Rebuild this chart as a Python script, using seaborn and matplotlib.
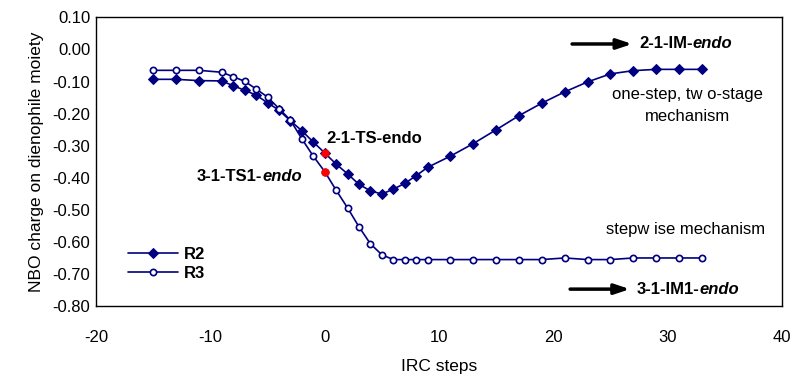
import matplotlib
matplotlib.use("Agg")
import matplotlib.pyplot as plt
import matplotlib.transforms as mtransforms
import seaborn as sns
import pandas as pd

# ---- data ----
steps = [-15, -13, -11, -9, -8, -7, -6, -5, -4, -3, -2, -1, 0, 1, 2, 3, 4, 5, 6, 7, 8, 9,
         11, 13, 15, 17, 19, 21, 23, 25, 27, 29, 31, 33]
r2 = [-0.093, -0.093, -0.097, -0.098, -0.113, -0.127, -0.142, -0.166, -0.189, -0.222,
      -0.253, -0.288, -0.322, -0.357, -0.387, -0.420, -0.440, -0.450, -0.435, -0.417,
      -0.393, -0.367, -0.332, -0.293, -0.250, -0.206, -0.167, -0.132, -0.101, -0.076,
      -0.066, -0.062, -0.062, -0.062]
r3 = [-0.065, -0.065, -0.065, -0.071, -0.085, -0.099, -0.123, -0.148, -0.184, -0.220,
      -0.278, -0.332, -0.380, -0.438, -0.493, -0.552, -0.605, -0.639, -0.654, -0.654,
      -0.654, -0.654, -0.654, -0.654, -0.654, -0.654, -0.654, -0.649, -0.654, -0.654,
      -0.649, -0.649, -0.649, -0.649]
ts_step = [0, 0]
ts_val = [-0.322, -0.380]
series_names = ["R2", "R3"]
xticks = [-20, -10, 0, 10, 20, 30, 40]
yticks = [0.10, 0.00, -0.10, -0.20, -0.30, -0.40, -0.50, -0.60, -0.70, -0.80]

sns.set_style("white")
plt.rcParams["font.family"] = ["Liberation Sans", "DejaVu Sans"]
plt.rcParams["axes.unicode_minus"] = False
plt.rcParams["text.color"] = "black"
plt.rcParams["axes.labelcolor"] = "black"
plt.rcParams["xtick.color"] = "black"
plt.rcParams["ytick.color"] = "black"

navy = "#000080"
fig = plt.figure(figsize=(7.95, 3.78), dpi=100)
ax = fig.add_axes([0.1208, 0.1892, 0.8628, 0.765])

df2 = pd.DataFrame({"step": steps, "charge": r2})
df3 = pd.DataFrame({"step": steps, "charge": r3})
sns.lineplot(data=df2, x="step", y="charge", ax=ax, color=navy, lw=1.2,
             marker="D", markersize=5, markerfacecolor=navy, markeredgecolor=navy,
             sort=False, estimator=None, label=series_names[0])
sns.lineplot(data=df3, x="step", y="charge", ax=ax, color=navy, lw=1.2,
             marker="o", markersize=4.5, markerfacecolor="white", markeredgecolor=navy,
             markeredgewidth=1.2, sort=False, estimator=None, label=series_names[1])
ax.plot(ts_step, ts_val, ls="none", marker="o", markersize=5, color="red", zorder=5)

ax.set_xlim(-20, 40)
ax.set_ylim(-0.80, 0.10)
ax.set_xticks(xticks)
ax.set_yticks(yticks)
ax.set_yticklabels([f"{v:.2f}" for v in yticks])
ax.tick_params(axis="both", direction="in", length=5, width=1, labelsize=12,
               colors="black", labelcolor="black")
ax.tick_params(axis="x", pad=17)
ax.tick_params(axis="y", pad=4)
for s in ax.spines.values():
    s.set_color("black")
    s.set_linewidth(1.0)
ax.set_xlabel("IRC steps", fontsize=12.5, labelpad=10, color="black")
ax.set_ylabel("NBO charge on dienophile moiety", fontsize=12.5, labelpad=6, color="black")

leg = ax.legend(loc="upper left", bbox_to_anchor=(0.035, 0.235), frameon=False,
                handlelength=3.0, handletextpad=0.3, labelspacing=0.25, borderpad=0,
                prop={"weight": "bold", "size": 12})
for t in leg.get_texts():
    t.set_color("black")

fig.canvas.draw()
renderer = fig.canvas.get_renderer()


def mixed(x, y, parts, fontsize=12):
    t = ax.transData
    for txt, style in parts:
        h = ax.text(x, y, txt, transform=t, fontsize=fontsize, fontweight="bold",
                    fontstyle=style, ha="left", va="center", color="black")
        ext = h.get_window_extent(renderer=renderer)
        t = mtransforms.offset_copy(h.get_transform(), fig=fig, x=ext.width, units="dots")


mixed(0.12, -0.276, [("2-1-TS-endo", "normal")])
mixed(-11.16, -0.397, [("3-1-TS1-", "normal"), ("endo", "italic")])
mixed(27.5, 0.017, [("2-1-IM-", "normal"), ("endo", "italic")])
mixed(27.33, -0.746, [("3-1-IM1-", "normal"), ("endo", "italic")])

for x1, x2, yy in [(21.64, 26.9, 0.017), (21.47, 26.7, -0.746)]:
    ax.annotate("", xy=(x2, yy), xytext=(x1, yy),
                arrowprops=dict(arrowstyle="-|>,head_length=0.9,head_width=0.3",
                                lw=2.5, color="black", shrinkA=0, shrinkB=0))

ax.text(31.7, -0.139, "one-step, tw o-stage", fontsize=12, ha="center", va="center")
ax.text(31.7, -0.210, "mechanism", fontsize=12, ha="center", va="center")
ax.text(31.6, -0.559, "stepw ise mechanism", fontsize=12, ha="center", va="center")

fig.savefig("out.png", dpi=100)
